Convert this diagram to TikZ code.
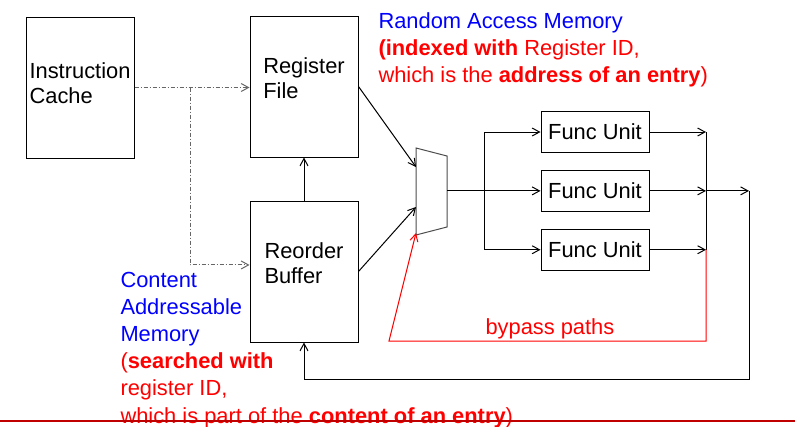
\documentclass[tikz,border=0pt]{standalone}
\usepackage{fontspec}
\setmainfont{Liberation Sans}
\usepackage{xcolor}
\usetikzlibrary{calc, arrows.meta, positioning}
\tikzset{
    boxnode/.style = {draw, rectangle, fill=none, inner sep=0em, minimum width=81pt, minimum height=105.75pt},
    unitnode/.style = {draw, rectangle, fill=none, inner sep=0em, minimum width=81pt, minimum height=31pt,
      font=\fontsize{16.4}{18.75}\selectfont},
    textnode/.style = {draw=none, fill=none, rectangle, inner sep=0em, align=left,
      font=\fontsize{16.4}{18.75}\selectfont},
    notenode/.style = {draw=none, fill=none, rectangle, inner sep=0em, align=left, anchor=west,
      font=\fontsize{16.4}{20.3}\selectfont},
    connect/.style = {black, ->},
    fetch/.style = {black!60, ->, dash pattern=on 3pt off 1.5pt on 0.75pt off 1.5pt},
    bypass/.style = {notered, ->}
}
\definecolor{ramblue}{RGB}{0, 0, 255}
\definecolor{notered}{RGB}{255, 0, 0}
\definecolor{rulered}{RGB}{192, 0, 0}

\begin{document}
\begin{tikzpicture}[x=0.75pt, y=-0.75pt, line width=0.75pt, >={Straight Barb[length=5.5pt, width=6pt]}]
    \useasboundingbox (0,0) rectangle (801,426);

    % storage blocks
    \node [boxnode, name=ic] at (80,87.5) {};
    \node [textnode, name=ictext] at ([yshift=3pt]ic.center) {Instruction\\Cache};
    \node [boxnode, name=rf] at (304,86.5) {};
    \node [textnode, name=rftext] at ([yshift=6.5pt]rf.center) {Register\\File};
    \node [boxnode, name=rob, below=32.25pt of rf] {};
    \node [textnode, name=robtext] at ([yshift=6.6pt]rob.center) {Reorder\\Buffer};

    % function units
    \node [unitnode, name=fu1] at (595,132) {Func Unit};
    \node [unitnode, name=fu2, below=12.4pt of fu1] {Func Unit};
    \node [unitnode, name=fu3, below=12.4pt of fu2] {Func Unit};

    % mux
    \coordinate (muxtl) at (416,148);
    \coordinate (muxtr) at (447,156);
    \coordinate (muxbr) at (447,227);
    \coordinate (muxbl) at (416,235);
    \draw [black!70] (muxtl) -- (muxtr) -- (muxbr) -- (muxbl) -- cycle;
    \coordinate (muxin1) at (416,167);
    \coordinate (muxin2) at (416,207);
    \coordinate (muxin3) at (416,233);
    \coordinate (muxout) at (447,0 |- fu2);

    % fetch paths
    \coordinate (fetchsplit) at (190,0 |- ic.east);
    \draw [fetch] (ic.east) -- (ic.east -| rf.west);
    \draw [fetch] (fetchsplit) |- ([yshift=4.9pt]rob.west);

    % operand paths
    \draw [connect] (rob.north) -- (rf.south);
    \draw [connect] (rf.east) -- (muxin1);
    \draw [connect] (rob.east) -- (muxin2);
    \coordinate (fusplit) at (484,0 |- muxout);
    \draw (muxout) -- (fusplit);
    \draw (fusplit |- fu1) -- (fusplit |- fu3);
    \draw [connect] (fusplit |- fu1) -- (fu1.west);
    \draw [connect] (fusplit) -- (fu2.west);
    \draw [connect] (fusplit |- fu3) -- (fu3.west);

    % result paths
    \coordinate (fujoin) at (706,0 |- fu2);
    \draw [connect] (fu1.east) -- (fujoin |- fu1);
    \draw [connect] (fu2.east) -- (fujoin);
    \draw [connect] (fu3.east) -- (fujoin |- fu3);
    \draw (fujoin |- fu1) -- (fujoin |- fu3);
    \coordinate (wbout) at (749,0 |- fu2);
    \coordinate (wbcorner) at (749,379);
    \draw [connect] (fujoin) -- (wbout);
    \draw [connect] (wbout) -- (wbcorner) -| (rob.south);
    \coordinate (bypasscorner) at (389,341);
    \draw [bypass] (fujoin |- fu3) |- (bypasscorner) -- (muxin3);

    % notes
    \node [notenode, name=ramnote, text=notered] at (378,49.7)
      {\textcolor{ramblue}{Random Access Memory}\\
       \textbf{(indexed with} Register ID,\\
       which is the \textbf{address of an entry})};
    \node [notenode, name=camnote, text=notered] at (120,350)
      {\textcolor{ramblue}{Content}\\
       \textcolor{ramblue}{Addressable}\\
       \textcolor{ramblue}{Memory}\\
       (\textbf{searched with}\\
       register ID,\\
       which is part of the \textbf{content of an entry})};
    \node [notenode, name=bypasslabel, text=notered] at (485,328.7) {bypass paths};

    \draw [rulered, line width=1.5pt] (0,420.5) -- (795,420.5);
\end{tikzpicture}
\end{document}
